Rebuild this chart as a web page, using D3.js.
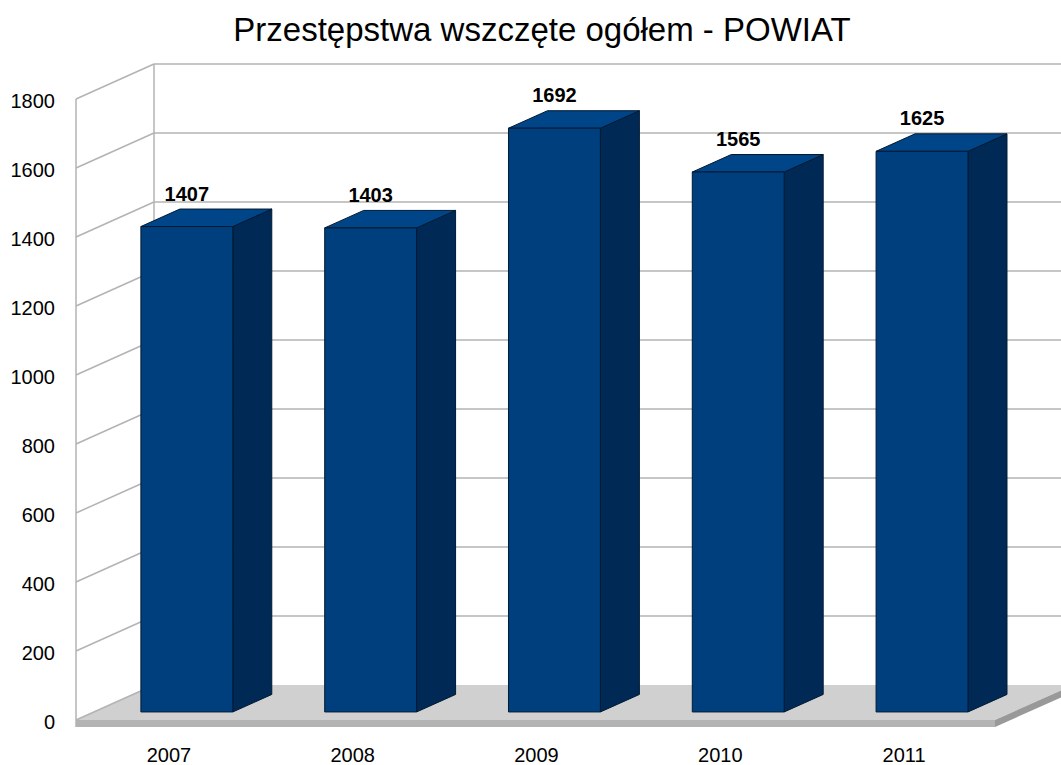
<!DOCTYPE html>
<html>
<head>
<meta charset="utf-8">
<script src="https://cdn.jsdelivr.net/npm/d3@7"></script>
<style>
  body { margin: 0; background: #fff; }
  text { font-family: "Liberation Sans", Arial, sans-serif; fill: #000; }
</style>
</head>
<body>
<script>
// data
var years = ["2007", "2008", "2009", "2010", "2011"];
var values = [1407, 1403, 1692, 1565, 1625];
var ticks = [0, 200, 400, 600, 800, 1000, 1200, 1400, 1600, 1800];
var title = "Przestępstwa wszczęte ogółem - POWIAT";

var W = 1061, H = 765;

// front plane scales
var y = d3.scaleLinear().domain([0, 1800]).range([720, 99]);
var x = d3.scaleBand().domain(years).range([77, 996])
    .paddingInner(0.5).paddingOuter(0.25);

// depth -> offset (0 = front, 1 = back wall)
var dx = d3.scaleLinear().domain([0, 1]).range([0, 78]),
    dy = d3.scaleLinear().domain([0, 1]).range([0, -35]);
var barFront = 0.23, barBack = 0.73;

var svg = d3.select("body").append("svg")
    .attr("width", W).attr("height", H);

function pts(arr) { return arr.map(function(p) { return p.join(","); }).join(" "); }

// floor
var y0 = y(0);
svg.append("polygon")
    .attr("points", pts([[76, y0], [76 + dx(1), y0 + dy(1)], [995 + dx(1), y0 + dy(1)], [995, y0]]))
    .attr("fill", "#d0d0d0");
svg.append("rect")
    .attr("x", 76).attr("y", y0).attr("width", 995 - 76).attr("height", 7)
    .attr("fill", "#b3b3b3");
svg.append("polygon")
    .attr("points", pts([[995, y0], [995 + dx(1), y0 + dy(1)], [995 + dx(1), y0 + dy(1) + 7], [995, y0 + 7]]))
    .attr("fill", "#999");

// grid: back wall and side wall
var grid = svg.append("g").attr("stroke", "#b3b3b3").attr("stroke-width", 1.5).attr("fill", "none");
grid.selectAll(".back").data(ticks.filter(function(d) { return d > 0; })).enter()
    .append("line")
    .attr("x1", 76 + dx(1)).attr("x2", W + 20)
    .attr("y1", function(d) { return y(d) + dy(1); })
    .attr("y2", function(d) { return y(d) + dy(1); });
grid.selectAll(".side").data(ticks).enter()
    .append("line")
    .attr("x1", 76).attr("x2", 76 + dx(1))
    .attr("y1", function(d) { return y(d); })
    .attr("y2", function(d) { return y(d) + dy(1); });
grid.append("line")
    .attr("x1", 76).attr("x2", 76).attr("y1", y(1800)).attr("y2", y0 + 7);
grid.append("line")
    .attr("x1", 76 + dx(1)).attr("x2", 76 + dx(1))
    .attr("y1", y(1800) + dy(1)).attr("y2", y0 + dy(1));

// bars
var bars = svg.selectAll(".bar").data(values).enter()
    .append("g").attr("class", "bar")
    .attr("stroke", "#001a33").attr("stroke-width", 1).attr("stroke-linejoin", "round");

bars.each(function(v, i) {
  var g = d3.select(this);
  var x0 = x(years[i]), x1 = x0 + x.bandwidth();
  var yt = y(v), yb = y(0);
  var ax = dx(barFront), ay = dy(barFront), bx = dx(barBack), by = dy(barBack);
  // side
  g.append("polygon")
      .attr("points", pts([[x1 + ax, yt + ay], [x1 + bx, yt + by], [x1 + bx, yb + by], [x1 + ax, yb + ay]]))
      .attr("fill", "#002a55");
  // top
  g.append("polygon")
      .attr("points", pts([[x0 + ax, yt + ay], [x0 + bx, yt + by], [x1 + bx, yt + by], [x1 + ax, yt + ay]]))
      .attr("fill", "#004588");
  // front
  g.append("rect")
      .attr("x", x0 + ax).attr("y", yt + ay)
      .attr("width", x.bandwidth()).attr("height", yb - yt)
      .attr("fill", "#003f7d");
});

// value labels
svg.selectAll(".val").data(values).enter()
    .append("text")
    .attr("x", function(d, i) { return x(years[i]) + x.bandwidth() / 2 + dx(barFront); })
    .attr("y", function(d) { return y(d) + dy(barFront) - 26; })
    .attr("text-anchor", "middle")
    .style("font-size", "20px").style("font-weight", "bold")
    .text(function(d) { return d; });

// y tick labels
svg.selectAll(".tick").data(ticks).enter()
    .append("text")
    .attr("x", 55)
    .attr("y", function(d) { return y(d) + 2; })
    .attr("dy", "0.35em")
    .attr("text-anchor", "end")
    .style("font-size", "20px")
    .text(function(d) { return d; });

// x labels
svg.selectAll(".year").data(years).enter()
    .append("text")
    .attr("x", function(d) { return x(d) + x.bandwidth() / 2; })
    .attr("y", 762)
    .attr("text-anchor", "middle")
    .style("font-size", "20px")
    .text(function(d) { return d; });

// title
svg.append("text")
    .attr("x", 542).attr("y", 41)
    .attr("text-anchor", "middle")
    .style("font-size", "33px")
    .text(title);
</script>
</body>
</html>
